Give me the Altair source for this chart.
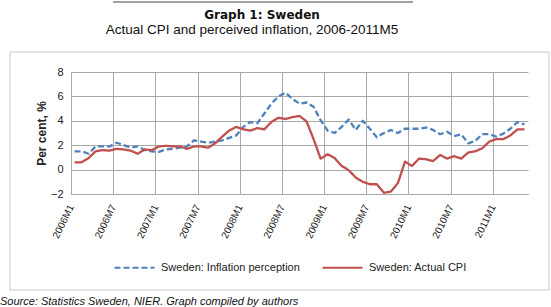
import json
import altair as alt
import pandas as pd

# ---- data ----
months = [f"{y}M{m}" for y in range(2006, 2012) for m in range(1, 13)][:65]
tick_labels = ["2006M1", "2006M7", "2007M1", "2007M7", "2008M1", "2008M7",
               "2009M1", "2009M7", "2010M1", "2010M7", "2011M1"]
y_ticks = [-2, 0, 2, 4, 6, 8]
series_names = ["Sweden: Inflation perception", "Sweden: Actual CPI"]

perception = [1.5, 1.5, 1.3, 1.9, 1.9, 1.9, 2.2, 2.0, 1.8, 1.9, 1.6, 1.5,
              1.45, 1.65, 1.7, 1.8, 1.9, 2.4, 2.3, 2.2, 2.3, 2.4, 2.6, 2.8,
              3.5, 3.9, 3.8, 4.6, 5.4, 6.0, 6.3, 5.8, 5.4, 5.5, 5.15, 4.05,
              3.2, 3.0, 3.5, 4.1, 3.25, 4.0, 3.35, 2.65, 3.0, 3.25, 3.0, 3.35,
              3.35, 3.35, 3.45, 3.25, 2.9, 3.1, 2.75, 2.9, 2.15, 2.35, 2.9, 2.9,
              2.7, 2.95, 3.35, 3.9, 3.7]
actual_cpi = [0.6, 0.6, 0.95, 1.5, 1.6, 1.55, 1.7, 1.65, 1.55, 1.3, 1.65, 1.6,
              1.9, 1.95, 1.9, 1.9, 1.7, 1.9, 1.9, 1.8, 2.15, 2.7, 3.2, 3.5,
              3.3, 3.2, 3.4, 3.3, 3.9, 4.25, 4.15, 4.3, 4.4, 3.95, 2.5, 0.9,
              1.25, 0.95, 0.3, -0.05, -0.65, -1.0, -1.2, -1.2, -1.9, -1.8, -1.1, 0.65,
              0.3, 0.9, 0.85, 0.7, 1.2, 0.9, 1.1, 0.9, 1.4, 1.5, 1.75, 2.3,
              2.5, 2.5, 2.8, 3.3, 3.3]

title_text = "Graph 1: Sweden"
subtitle_text = "Actual CPI and perceived inflation, 2006-2011M5"
source_text = "Source: Statistics Sweden, NIER. Graph compiled by authors"
y_title = "Per cent, %"

# ---- table ----
rows = []
for name, vals in zip(series_names, [perception, actual_cpi]):
    for i, v in enumerate(vals):
        rows.append({"i": i, "month": months[i], "value": v, "series": name})
df = pd.DataFrame(rows)

tick_pos = [months.index(t) - 0.5 for t in tick_labels]
label_expr = f"{json.dumps(tick_labels)}[round((datum.value + 0.5) / 6)]"

FONT = "Liberation Sans"
GRID = "#a8a8a8"

legend = alt.Legend(
    title=None, orient="none", legendX=42, legendY=174, direction="horizontal",
    symbolType="stroke", symbolSize=1600, symbolStrokeWidth=2.2,
    labelFont=FONT, labelFontSize=11, labelColor="#222", labelLimit=300,
    columnPadding=18, labelOffset=5,
)

lines = alt.Chart(df).mark_line(strokeWidth=2.3, strokeJoin="round").encode(
    x=alt.X("i:Q",
            scale=alt.Scale(domain=[-0.5, 64.5], nice=False, zero=False),
            axis=alt.Axis(values=tick_pos, labelExpr=label_expr, title=None,
                          labelAngle=-64, labelAlign="right", labelBaseline="middle",
                          labelPadding=11, ticks=False, domain=True, domainColor=GRID,
                          grid=True, gridColor=GRID, labelFont=FONT, labelFontSize=10,
                          labelColor="#222", labelOverlap=False)),
    y=alt.Y("value:Q",
            scale=alt.Scale(domain=[-2, 8], nice=False, zero=False),
            axis=alt.Axis(values=y_ticks, title=y_title, ticks=False, domain=True,
                          domainColor=GRID, grid=True, gridColor=GRID,
                          labelFont=FONT, labelFontSize=11, labelColor="#222",
                          labelPadding=8, titleFont=FONT, titleFontSize=12,
                          titleFontWeight="bold", titleColor="#222",
                          titleAngle=-90, titleX=-30, titleY=61,
                          titleAlign="center", titleBaseline="middle")),
    color=alt.Color("series:N", sort=series_names,
                    scale=alt.Scale(domain=series_names, range=["#4F81BD", "#C0504D"]),
                    legend=legend),
    strokeDash=alt.StrokeDash("series:N", sort=series_names,
                              scale=alt.Scale(domain=series_names, range=[[6, 3], [1, 0]]),
                              legend=legend),
    order=alt.Order("i:Q"),
)

one = pd.DataFrame({"a": [0]})

box = alt.Chart(one).mark_rect(fillOpacity=0, stroke="#c8c8c8", strokeWidth=1).encode(
    x=alt.value(-61), x2=alt.value(478), y=alt.value(-20), y2=alt.value(218))

top_rule = alt.Chart(one).mark_rule(stroke="#a0a0a0", strokeWidth=2).encode(
    x=alt.value(42), x2=alt.value(342), y=alt.value(-70))

title = alt.Chart(pd.DataFrame({"t": [title_text]})).mark_text(
    font="DejaVu Sans", fontSize=12, fontWeight="bold", color="#111",
    align="center", baseline="alphabetic").encode(
    text="t:N", x=alt.value(191), y=alt.value(-53.5))

subtitle = alt.Chart(pd.DataFrame({"t": [subtitle_text]})).mark_text(
    font=FONT, fontSize=13.5, color="#111",
    align="center", baseline="alphabetic").encode(
    text="t:N", x=alt.value(181), y=alt.value(-38.5))

source = alt.Chart(pd.DataFrame({"t": [source_text]})).mark_text(
    font=FONT, fontSize=11, fontStyle="italic", color="#111",
    align="left", baseline="alphabetic").encode(
    text="t:N", x=alt.value(-71), y=alt.value(232.5))

chart = alt.layer(box, top_rule, lines, title, subtitle, source).properties(
    width=457, height=122,
    autosize=alt.AutoSizeParams(type="none"),
    padding={"left": 71, "top": 72, "right": 23, "bottom": 113},
    background="white",
).configure_view(strokeWidth=0)

chart.save("out.html", embed_options={"renderer": "svg", "actions": False})
